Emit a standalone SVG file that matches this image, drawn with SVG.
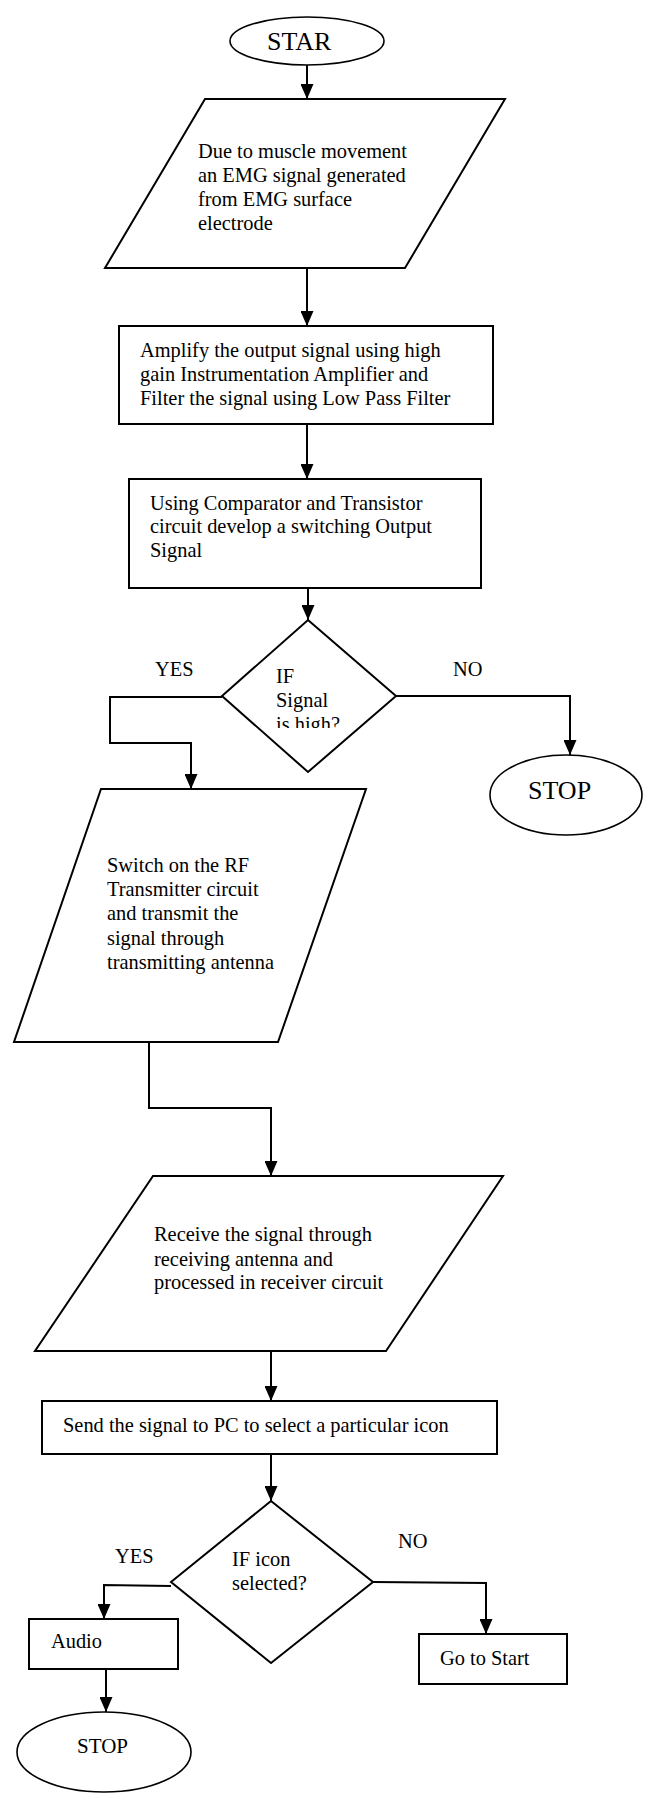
<svg xmlns="http://www.w3.org/2000/svg" width="648" height="1794" viewBox="0 0 648 1794">
<style>
.s{fill:#fff;stroke:#000;stroke-width:2}
.e{fill:#fff;stroke:#000;stroke-width:1.6}
.c{fill:none;stroke:#000;stroke-width:2}
text{font-family:"Liberation Serif","Times New Roman",serif;font-size:20.4px;fill:#000}
.big{font-size:26px}
</style>
<defs>
<marker id="ah" viewBox="0 0 15 13" refX="15" refY="6.5" markerWidth="15" markerHeight="13" markerUnits="userSpaceOnUse" orient="auto">
<path d="M0,0 L15,6.5 L0,13 z" fill="#000"/>
</marker>
<clipPath id="clipd1"><rect x="200" y="600" width="220" height="128"/></clipPath>
</defs>
<rect width="648" height="1794" fill="#fff"/>
<g id="connectors">
<path class="c" d="M307,65 V99" marker-end="url(#ah)"/>
<path class="c" d="M307,268 V326" marker-end="url(#ah)"/>
<path class="c" d="M307,424 V479" marker-end="url(#ah)"/>
<path class="c" d="M308,588 V620" marker-end="url(#ah)"/>
<path class="c" d="M222,697 H110 V743 H191 V789" marker-end="url(#ah)"/>
<path class="c" d="M396,696 H570 V755" marker-end="url(#ah)"/>
<path class="c" d="M149,1042 V1108 H271 V1176" marker-end="url(#ah)"/>
<path class="c" d="M271,1351 V1401" marker-end="url(#ah)"/>
<path class="c" d="M271,1454 V1501" marker-end="url(#ah)"/>
<path class="c" d="M171,1586 L104,1585 V1619" marker-end="url(#ah)"/>
<path class="c" d="M373,1582 L486,1583 V1634" marker-end="url(#ah)"/>
<path class="c" d="M106,1669 V1712" marker-end="url(#ah)"/>
</g>
<g id="labels">
<text x="155" y="676">YES</text>
<text x="453" y="676">NO</text>
<text x="115" y="1563">YES</text>
<text x="398" y="1548">NO</text>
</g>
<g id="start">
<ellipse class="e" cx="307" cy="41" rx="77" ry="24"/>
<text class="big" x="267" y="50">STAR</text>
</g>
<g id="emg">
<polygon class="s" points="205,99 505,99 405,268 105,268"/>
<text x="198" y="158">Due to muscle movement</text>
<text x="198" y="182">an EMG signal generated</text>
<text x="198" y="206">from EMG surface</text>
<text x="198" y="230">electrode</text>
</g>
<g id="amplify">
<rect class="s" x="119" y="326" width="374" height="98"/>
<text x="140" y="357">Amplify the output signal using high</text>
<text x="140" y="381">gain Instrumentation Amplifier and</text>
<text x="140" y="405">Filter the signal using Low Pass Filter</text>
</g>
<g id="comparator">
<rect class="s" x="129" y="479" width="352" height="109"/>
<text x="150" y="510">Using Comparator and Transistor</text>
<text x="150" y="533">circuit develop a switching Output</text>
<text x="150" y="557">Signal</text>
</g>
<g id="decision1">
<polygon class="s" points="308,620 396,696 308,772 222,696"/>
<g clip-path="url(#clipd1)">
<text x="276" y="683">IF</text>
<text x="276" y="707">Signal</text>
<text x="276" y="731">is high?</text>
</g>
</g>
<g id="stop1">
<ellipse class="e" cx="566" cy="795" rx="76" ry="40"/>
<text class="big" x="528" y="799">STOP</text>
</g>
<g id="transmit">
<polygon class="s" points="101,789 366,789 278,1042 14,1042"/>
<text x="107" y="872">Switch on the RF</text>
<text x="107" y="896">Transmitter circuit</text>
<text x="107" y="920">and transmit the</text>
<text x="107" y="945">signal through</text>
<text x="107" y="969">transmitting antenna</text>
</g>
<g id="receive">
<polygon class="s" points="153,1176 503,1176 386,1351 35,1351"/>
<text x="154" y="1241">Receive the signal through</text>
<text x="154" y="1266">receiving antenna and</text>
<text x="154" y="1289">processed in receiver circuit</text>
</g>
<g id="sendpc">
<rect class="s" x="42" y="1401" width="455" height="53"/>
<text x="63" y="1432">Send the signal to PC to select a particular icon</text>
</g>
<g id="decision2">
<polygon class="s" points="271,1501 373,1582 271,1663 171,1582"/>
<text x="232" y="1566">IF icon</text>
<text x="232" y="1590">selected?</text>
</g>
<g id="audio">
<rect class="s" x="29" y="1619" width="149" height="50"/>
<text x="51" y="1648">Audio</text>
</g>
<g id="gotostart">
<rect class="s" x="419" y="1634" width="148" height="50"/>
<text x="440" y="1665">Go to Start</text>
</g>
<g id="stop2">
<ellipse class="e" cx="104" cy="1752" rx="87" ry="40"/>
<text x="77" y="1753" style="font-size:21px">STOP</text>
</g>
</svg>
